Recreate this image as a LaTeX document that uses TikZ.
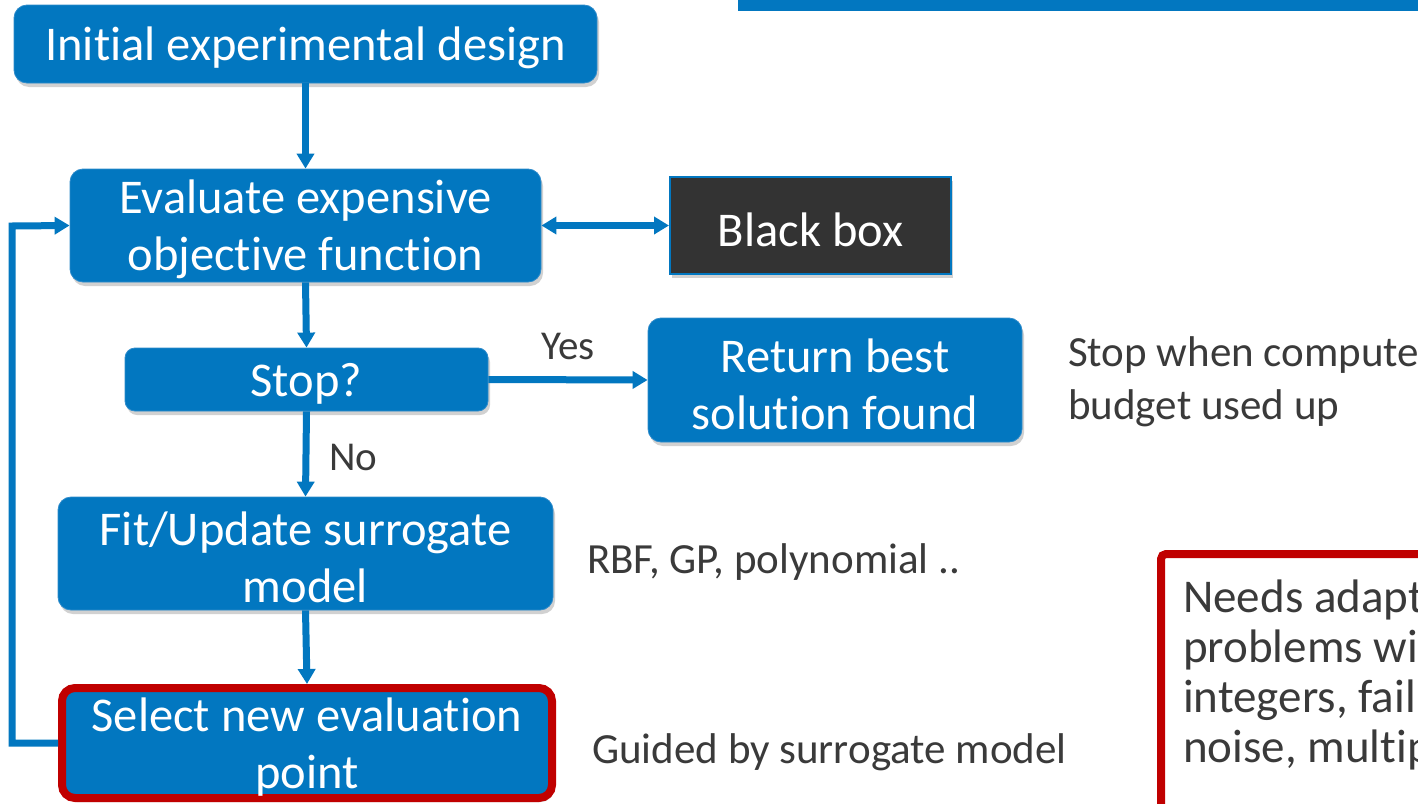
\documentclass[tikz,border=0pt]{standalone}
\usepackage{fontspec}
\setmainfont{Carlito}[Ligatures=NoCommon]
\usetikzlibrary{shadows,arrows.meta}
\definecolor{mblue}{HTML}{0277C0}
\definecolor{medge}{HTML}{2E8BCB}
\definecolor{mred}{HTML}{C00000}
\definecolor{mdark}{HTML}{333333}
\definecolor{mtext}{HTML}{3A3A3A}
\begin{document}
\begin{tikzpicture}[x=1pt,y=-1pt,
  shade/.style={drop shadow={shadow xshift=2pt,shadow yshift=-4pt,opacity=0.18,fill=black}},
  boxtext/.style={text=white, font=\fontsize{48.5}{57}\selectfont, align=center, inner sep=0pt, yshift=-4pt},
  box/.style={rounded corners=13pt, fill=mblue, draw=medge, line width=0.8pt, inner sep=0pt, shade},
  darkbox/.style={fill=mdark, draw=mblue, line width=2pt, inner sep=0pt, shade},
  note/.style={text=mtext, font=\fontsize{43}{53}\selectfont, align=left, inner sep=0pt},
  lbl/.style={text=mtext, font=\fontsize{41}{50}\selectfont, inner sep=0pt},
  conn/.style={draw=mblue, line width=7pt, -{Triangle[length=15pt,width=17pt]}},
  dconn/.style={draw=mblue, line width=7pt, {Triangle[length=15pt,width=17pt]}-{Triangle[length=15pt,width=17pt]}},
]
\path[use as bounding box, clip] (0,0) rectangle (1418,803);
\fill[white] (0,0) rectangle (1418,803);
% top banner
\fill[mblue] (738,0) rectangle (1418,11);

\node[box, minimum width=583pt, minimum height=78pt,
  label={[boxtext]center:{Initial experimental design}}] (init) at (305.5,44) {};
\node[box, minimum width=471pt, minimum height=113pt,
  label={[boxtext]center:{Evaluate expensive\\objective function}}] (eval) at (305.5,225.5) {};
\node[darkbox, minimum width=281pt, minimum height=97pt,
  label={[boxtext]center:{Black box}}] (black) at (810.5,225.5) {};
\node[box, rounded corners=10pt, minimum width=363pt, minimum height=63pt,
  label={[boxtext]center:{Stop?}}] (stop) at (306.5,379.5) {};
\node[box, minimum width=374pt, minimum height=124pt,
  label={[boxtext]center:{Return best\\solution found}}] (ret) at (835,380) {};
\node[box, minimum width=495pt, minimum height=113pt,
  label={[boxtext]center:{Fit/Update surrogate\\model}}] (fit) at (305.5,553.5) {};
\node[box, draw=mred, line width=8pt, minimum width=490pt, minimum height=110pt,
  label={[boxtext]center:{Select new evaluation\\point}}] (sel) at (307,743) {};

\node[note, anchor=west] (n1) at (1068,382) {Stop when compute\\budget used up};
\node[note, anchor=west] (n2) at (587,562) {RBF, GP, polynomial ..};
\node[note, anchor=west] (n3) at (592,752) {Guided by surrogate model};

% red note box
\draw[mred, line width=8pt, rounded corners=5pt] (1161,554) rectangle (1460,860);
\node[note, font=\fontsize{47}{50}\selectfont, anchor=north west] (n4) at (1183,580) {Needs adapt\\problems wi\\integers, fail\\noise, multip};

% connectors
\draw[conn] (init.south) -- (eval.north);
\draw[dconn] (eval.east) -- (black.west);
\draw[conn] (eval.south) -- (stop.north);
\draw[conn] (stop.east) -- node[lbl, above=16pt, pos=0.5] (yes) {Yes} (ret.west);
\draw[conn] (stop.south) -- node[lbl, right=20pt, pos=0.54] (no) {No} (fit.north);
\draw[conn] (fit.south) -- (sel.north);
\coordinate (lb) at (12,743);
\coordinate (lt) at (12,226);
\draw[conn] (sel.west) -- (lb) -- (lt) -- (eval.west);
\end{tikzpicture}
\end{document}
